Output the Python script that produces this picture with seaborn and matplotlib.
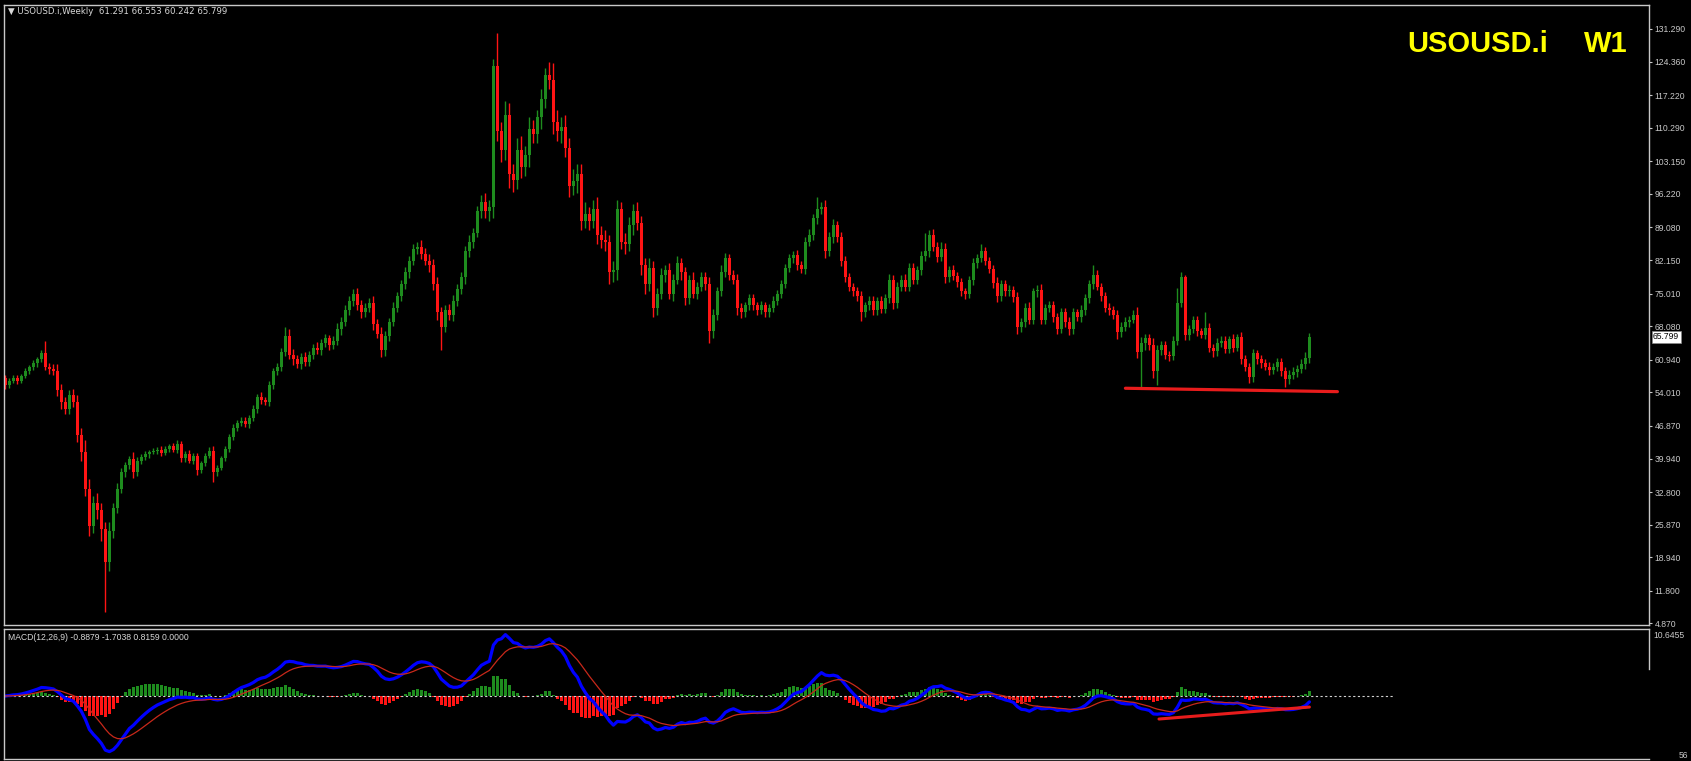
import numpy as np
import pandas as pd
import matplotlib
matplotlib.use("Agg")
import matplotlib.pyplot as plt
import matplotlib.transforms as mtransforms
import seaborn as sns

# chart header values
symbol = "USOUSD.i"
timeframe = "W1"
last_ohlc = [61.291, 66.553, 60.242, 65.799]
macd_readout = [-0.8879, -1.7038, 0.8159, 0.0000]

# weekly closes, read candle by candle (oldest first)
first_open = 57.0
closes = [
    55.5, 56.5, 57.0, 56.5, 57.5, 58.5, 59.3, 60.2, 61.0, 62.3,
    59.5, 59.0, 58.5, 54.5, 52.0, 50.5, 53.5, 52.0, 45.0, 41.3,
    33.5, 25.5, 30.5, 29.0, 25.0, 18.0, 24.5, 29.5, 33.5, 37.0,
    38.5, 39.8, 37.0, 39.5, 40.3, 40.8, 41.3, 41.5, 41.8, 41.2,
    42.0, 42.5, 41.8, 43.0, 40.0, 41.0, 39.5, 40.5, 37.5, 39.0,
    40.5, 41.5, 37.0, 38.0, 40.0, 42.0, 44.5, 46.5, 47.5, 48.0,
    47.3, 48.5, 50.5, 53.0, 52.3, 52.0, 55.5, 58.5, 59.5, 62.5,
    66.0, 62.0, 61.0, 60.0, 61.5, 60.5, 62.0, 63.5, 63.0, 64.5,
    65.5, 64.0, 65.0, 67.5, 69.0, 71.5, 73.5, 75.0, 72.5, 71.0,
    72.0, 73.0, 68.5, 66.5, 63.0, 66.0, 69.0, 72.0, 74.5, 77.0,
    79.5, 82.0, 84.5, 85.0, 83.5, 82.0, 81.0, 77.0, 71.0, 68.0,
    71.5, 70.5, 73.5, 76.0, 78.5, 84.0, 86.0, 88.0, 92.5, 94.5,
    92.5, 93.5, 123.5, 109.5, 105.5, 113.0, 100.5, 99.2, 105.5, 102.0,
    104.5, 110.0, 109.0, 112.5, 116.5, 121.5, 120.5, 111.5, 109.5, 110.5,
    106.0, 98.0, 99.0, 100.5, 90.5, 92.0, 90.5, 93.0, 87.5, 86.5,
    86.0, 79.5, 80.0, 93.0, 86.0, 85.5, 89.5, 92.5, 90.0, 81.0,
    77.0, 80.5, 72.0, 75.0, 79.0, 80.0, 75.0, 78.0, 81.5, 79.5,
    74.0, 78.0, 75.0, 76.5, 78.5, 77.0, 67.0, 70.5, 75.5, 79.5,
    82.5, 79.0, 78.0, 72.0, 71.0, 72.5, 74.0, 72.5, 71.5, 72.5,
    71.0, 72.0, 73.5, 75.0, 77.0, 80.5, 82.5, 83.3, 81.0, 80.2,
    86.0, 87.5, 91.0, 93.0, 93.5, 84.0, 87.0, 89.5, 87.0, 82.0,
    78.5, 76.5, 75.5, 74.5, 71.0, 72.5, 73.5, 71.5, 73.5, 71.8,
    74.0, 78.0, 73.0, 76.5, 78.0, 76.5, 80.5, 78.0, 80.0, 83.0,
    84.0, 87.5, 85.0, 82.8, 84.5, 78.5, 80.0, 78.8, 77.5, 75.5,
    75.0, 77.8, 81.5, 82.5, 84.0, 82.0, 80.2, 77.3, 74.5, 77.0,
    75.5, 75.8, 74.3, 68.0, 69.0, 72.0, 69.5, 75.5, 75.8, 69.5,
    72.0, 72.5, 70.0, 67.5, 71.0, 69.0, 67.5, 71.0, 70.0, 71.5,
    74.0, 77.0, 79.0, 76.5, 74.5, 72.0, 71.5, 70.5, 66.8, 68.0,
    69.0, 69.5, 70.5, 62.5, 64.5, 65.5, 64.0, 58.5, 63.0, 64.0,
    62.0, 61.8, 65.0, 73.0, 78.5, 66.2, 67.5, 69.3, 67.0, 66.3,
    67.8, 63.5, 62.8, 64.5, 65.0, 63.3, 65.3, 63.5, 65.8, 61.0,
    59.5, 57.3, 62.3, 61.0, 60.2, 59.5, 58.8, 59.5, 60.5, 58.5,
    56.8, 57.8, 58.3, 59.0, 60.0, 61.291, 65.799,
]

# upper / lower shadow lengths of each candle
wick_up = [
    0.6, 0.5, 0.7, 0.8, 0.5, 0.6, 0.5, 0.7, 0.6, 0.8,
    2.7, 0.8, 1.0, 1.5, 1.2, 1.0, 1.0, 1.3, 1.5, 1.5,
    2.5, 2.0, 1.5, 2.0, 1.5, 1.5, 2.0, 1.0, 1.2, 1.0,
    0.8, 0.7, 1.5, 0.8, 0.6, 0.7, 0.5, 0.6, 0.5, 0.7,
    0.6, 0.5, 0.7, 0.8, 0.6, 0.5, 0.8, 0.6, 0.7, 0.5,
    0.6, 0.8, 1.0, 0.6, 0.5, 0.6, 0.7, 0.8, 0.6, 0.7,
    0.8, 0.6, 0.9, 0.7, 1.0, 0.8, 0.9, 0.7, 0.8, 1.0,
    1.9, 1.5, 1.2, 0.9, 0.8, 1.0, 0.8, 0.7, 1.2, 0.9,
    1.0, 0.8, 0.9, 1.2, 1.0, 1.1, 0.9, 1.0, 1.3, 1.2,
    1.0, 1.1, 1.4, 1.2, 1.5, 1.0, 0.9, 1.2, 0.8, 1.0,
    1.2, 1.0, 1.1, 1.0, 1.5, 1.2, 1.4, 1.3, 1.5, 1.2,
    1.0, 1.3, 1.2, 1.1, 1.0, 1.2, 1.5, 1.0, 1.2, 1.4,
    2.0, 1.5, 1.5, 6.9, 2.0, 3.0, 2.5, 2.0, 2.5, 3.0,
    2.0, 2.5, 2.0, 1.5, 2.0, 1.5, 2.8, 3.5, 2.5, 2.0,
    2.5, 2.0, 2.5, 2.0, 2.0, 2.5, 1.5, 2.0, 2.5, 1.8,
    2.0, 1.5, 2.0, 2.0, 1.5, 2.0, 1.8, 1.5, 2.0, 1.5,
    1.5, 2.0, 1.5, 1.2, 1.5, 1.0, 1.5, 1.2, 1.5, 1.0,
    1.2, 1.0, 1.5, 1.0, 1.2, 1.0, 1.5, 1.2, 1.0, 1.5,
    1.2, 1.0, 1.0, 1.2, 1.0, 0.8, 1.0, 0.9, 0.8, 1.0,
    0.8, 0.7, 1.0, 0.8, 1.0, 0.9, 1.0, 0.8, 1.0, 0.9,
    1.0, 1.2, 1.0, 2.6, 1.0, 1.5, 1.2, 1.3, 1.0, 1.2,
    1.0, 0.9, 0.8, 1.0, 1.0, 0.8, 0.9, 1.0, 0.8, 0.9,
    1.0, 1.2, 1.0, 0.9, 1.0, 1.2, 1.0, 1.1, 0.9, 1.0,
    3.9, 1.0, 1.2, 1.0, 1.5, 1.2, 0.9, 1.0, 0.8, 0.9,
    0.8, 1.0, 1.0, 0.9, 1.5, 1.0, 0.8, 1.0, 1.2, 1.0,
    0.9, 1.0, 0.8, 1.0, 0.9, 1.0, 1.2, 0.8, 1.0, 1.2,
    0.9, 1.0, 1.0, 0.8, 1.0, 0.9, 1.0, 1.0, 0.8, 1.0,
    1.0, 1.0, 2.0, 1.0, 0.8, 0.9, 1.0, 0.8, 1.0, 0.9,
    1.0, 0.8, 1.0, 1.7, 1.2, 1.0, 1.0, 1.5, 1.0, 1.0,
    1.0, 0.8, 1.0, 3.2, 1.0, 0.5, 0.8, 1.0, 0.9, 0.8,
    3.2, 1.0, 0.8, 1.0, 0.9, 1.0, 0.8, 1.2, 0.7, 1.0,
    0.9, 0.8, 1.0, 0.8, 0.9, 0.8, 1.0, 0.8, 0.9, 0.8,
    0.8, 0.9, 1.0, 0.8, 1.0, 1.2, 0.754,
]
wick_dn = [
    0.7, 0.6, 0.5, 0.8, 0.6, 0.5, 0.6, 0.5, 0.7, 0.6,
    0.8, 1.0, 0.8, 1.2, 1.5, 1.0, 1.2, 1.0, 1.5, 1.8,
    1.5, 2.0, 1.5, 2.0, 2.5, 10.7, 2.0, 1.5, 1.2, 1.0,
    1.0, 0.8, 1.2, 0.7, 0.8, 0.6, 0.7, 0.5, 0.6, 0.8,
    0.6, 0.7, 0.5, 0.6, 0.8, 0.7, 0.6, 0.8, 1.0, 0.6,
    0.7, 0.5, 2.0, 0.7, 0.6, 0.5, 0.7, 0.6, 0.8, 0.6,
    0.7, 0.8, 0.6, 0.9, 0.8, 0.7, 0.9, 0.8, 0.7, 0.9,
    0.8, 1.0, 1.2, 0.9, 1.0, 0.8, 0.9, 1.0, 0.8, 1.0,
    0.9, 1.0, 0.8, 1.0, 1.2, 0.9, 1.0, 1.1, 1.0, 1.2,
    0.9, 1.0, 1.2, 1.0, 1.5, 1.2, 1.0, 0.9, 1.0, 1.1,
    1.0, 1.2, 1.0, 1.1, 1.2, 1.0, 1.5, 1.2, 1.5, 5.0,
    1.2, 1.0, 1.3, 1.2, 1.0, 1.5, 1.2, 1.3, 1.0, 1.5,
    1.5, 2.0, 2.5, 2.0, 2.5, 2.0, 3.0, 2.5, 2.0, 2.5,
    2.0, 2.5, 2.0, 2.0, 2.5, 2.0, 2.0, 2.5, 2.0, 2.5,
    2.0, 2.5, 2.0, 2.5, 2.0, 1.5, 2.0, 1.5, 2.0, 1.8,
    2.0, 2.5, 2.0, 2.0, 1.5, 2.0, 1.5, 2.0, 1.5, 2.0,
    2.0, 1.5, 2.0, 1.5, 1.2, 1.5, 1.2, 1.5, 1.0, 1.5,
    1.5, 1.2, 1.0, 1.2, 1.0, 1.2, 2.5, 1.5, 1.2, 1.0,
    1.0, 1.2, 1.0, 1.5, 1.2, 1.0, 0.9, 1.0, 1.1, 0.8,
    1.0, 0.9, 0.8, 1.0, 0.9, 0.8, 1.0, 0.9, 1.0, 0.8,
    1.0, 0.9, 1.0, 1.2, 1.0, 1.5, 1.0, 1.2, 1.0, 1.2,
    1.0, 0.9, 1.0, 1.1, 1.8, 1.0, 0.9, 1.0, 1.1, 0.9,
    1.0, 0.9, 1.2, 1.0, 0.9, 1.0, 1.0, 0.9, 1.0, 1.0,
    1.0, 1.2, 1.0, 1.0, 0.9, 1.2, 1.0, 0.9, 1.0, 1.0,
    1.2, 1.0, 0.9, 1.0, 0.8, 1.0, 0.9, 1.0, 1.2, 1.0,
    1.0, 0.9, 1.0, 1.5, 1.2, 1.0, 0.9, 1.0, 1.2, 1.0,
    1.0, 0.9, 1.0, 1.0, 0.9, 1.0, 1.2, 1.0, 0.9, 1.0,
    1.0, 0.9, 1.0, 0.8, 1.0, 0.9, 1.0, 0.8, 1.5, 1.0,
    0.9, 1.0, 0.8, 1.2, 7.4, 1.5, 1.0, 1.5, 3.0, 1.0,
    1.0, 1.2, 1.0, 1.0, 0.9, 1.0, 1.0, 0.9, 1.0, 0.8,
    1.0, 1.0, 1.2, 1.0, 0.9, 1.0, 0.9, 1.0, 0.8, 1.0,
    1.0, 1.2, 1.0, 0.9, 1.0, 0.8, 1.0, 0.9, 1.0, 1.0,
    1.7, 1.0, 0.9, 1.0, 0.8, 1.0, 1.049,
]

price_ticks = [131.290, 124.360, 117.220, 110.290, 103.150, 96.220, 89.080,
               82.150, 75.010, 68.080, 60.940, 54.010, 46.870, 39.940,
               32.800, 25.870, 18.940, 11.800, 4.870]
macd_top = 10.6455

# hand-drawn lines: support under the lows, trend line under the MACD
support_x = [280, 333]
support_y = [54.88, 54.16]
macd_trend_x = [288.4, 326.0]
macd_trend_y = [-3.65, -1.75]

GREEN = "#1e8c1e"
RED = "#ff1414"
GREY = "#c8c8c8"

df = pd.DataFrame({"close": closes, "up": wick_up, "dn": wick_dn})
df["idx"] = np.arange(len(df))
df["open"] = df["close"].shift(1).fillna(first_open)
df.loc[len(df) - 1, "open"] = last_ohlc[0]
df["body_lo"] = df[["open", "close"]].min(axis=1)
df["body_hi"] = df[["open", "close"]].max(axis=1)
df["high"] = df["body_hi"] + df["up"]
df["low"] = df["body_lo"] - df["dn"]

# MACD(12,26,9)
ema12 = df["close"].ewm(span=12, adjust=False).mean()
ema26 = df["close"].ewm(span=26, adjust=False).mean()
df["macd"] = ema12 - ema26
df["signal"] = df["macd"].ewm(span=9, adjust=False).mean()
df["hist"] = df["macd"] - df["signal"]

sns.set_theme(style="dark", rc={"axes.facecolor": "black", "figure.facecolor": "black"})
plt.rcParams["font.family"] = ["Liberation Sans", "DejaVu Sans"]

W, H = 1691, 761
fig = plt.figure(figsize=(W / 100, H / 100), dpi=100)
ax = fig.add_axes([4 / W, 1 - 625 / H, 1645 / W, 620 / H])
ax2 = fig.add_axes([4 / W, 1 - 759 / H, 1645 / W, 130 / H])

# candles
colors = np.where(df["close"] >= df["open"], GREEN, RED)
ax.vlines(df["idx"], df["low"], df["high"], colors=colors, lw=1.0)
ax.bar(df["idx"], (df["body_hi"] - df["body_lo"]).clip(lower=0.25), bottom=df["body_lo"],
       width=0.75, color=colors, linewidth=0)
sns.lineplot(x=support_x, y=support_y, ax=ax, color="#e81c1c", lw=2.3)

ax.set_xlim(-0.35, 410.9)
ax.set_ylim(4.53, 136.39)
ax.set_yticks(price_ticks)
ax.set_yticklabels([f"{v:.3f}" for v in price_ticks])

# MACD panel
hcolors = np.where(df["hist"] >= 0, GREEN, RED)
ax2.bar(df["idx"], df["hist"], width=0.6, color=hcolors, linewidth=0)
ax2.hlines(0, -0.35, 347, colors="#d0d0d0", linestyles=(0, (2, 2.2)), lw=0.8)
sns.lineplot(data=df, x="idx", y="macd", ax=ax2, color="#0000ff", lw=2.3)
sns.lineplot(data=df, x="idx", y="signal", ax=ax2, color="#c8281a", lw=0.9)
sns.lineplot(x=macd_trend_x, y=macd_trend_y, ax=ax2, color="#e81c1c", lw=2.2)
ax2.set_xlim(-0.35, 410.9)
ax2.set_ylim(-10.0, macd_top)
ax2.set_yticks([])

for a in (ax, ax2):
    a.set_xticks([])
    a.set_xlabel("")
    a.set_ylabel("")
    a.grid(False)
    a.yaxis.tick_right()
    a.tick_params(axis="y", colors=GREY, labelcolor=GREY, labelsize=6.2,
                  length=2.5, width=0.8, pad=1.5, direction="out")
    for s in a.spines.values():
        s.set_color(GREY)
        s.set_linewidth(1.0)
ax2.spines["right"].set_bounds(4.29, macd_top)

# current price box
trans = mtransforms.blended_transform_factory(ax.transAxes, ax.transData)
ax.text(1.0025, last_ohlc[3], f"{last_ohlc[3]:.3f}", transform=trans, ha="left", va="center",
        fontsize=6.2, color="black",
        bbox=dict(boxstyle="square,pad=0.15", facecolor="white", edgecolor="#888888", lw=0.5))

# texts
fig.text(8 / W, 1 - 12 / H,
         "\u25BC " + f"{symbol},Weekly  " + " ".join(f"{v:.3f}" for v in last_ohlc),
         fontsize=6.2, color="#d8d8d8", va="center", family=["DejaVu Sans"])
fig.text(1407 / W, 1 - 44 / H, symbol, fontsize=21, fontweight="bold", color="#ffff00", va="center")
fig.text(1628 / W, 1 - 44 / H, timeframe, fontsize=21, fontweight="bold", color="#ffff00",
         va="center", ha="right")
fig.text(8 / W, 1 - 637 / H,
         "MACD(12,26,9) " + " ".join(f"{v:.4f}" for v in macd_readout),
         fontsize=6.2, color="#d8d8d8", va="center")
fig.text(1653 / W, 1 - 636 / H, f"{macd_top:.4f}", fontsize=6.2, color=GREY, va="center")
fig.text(1688 / W, 1 - 755 / H, "56", fontsize=6.2, color=GREY, va="center", ha="right")

fig.savefig("out.png", dpi=100, facecolor="black")
